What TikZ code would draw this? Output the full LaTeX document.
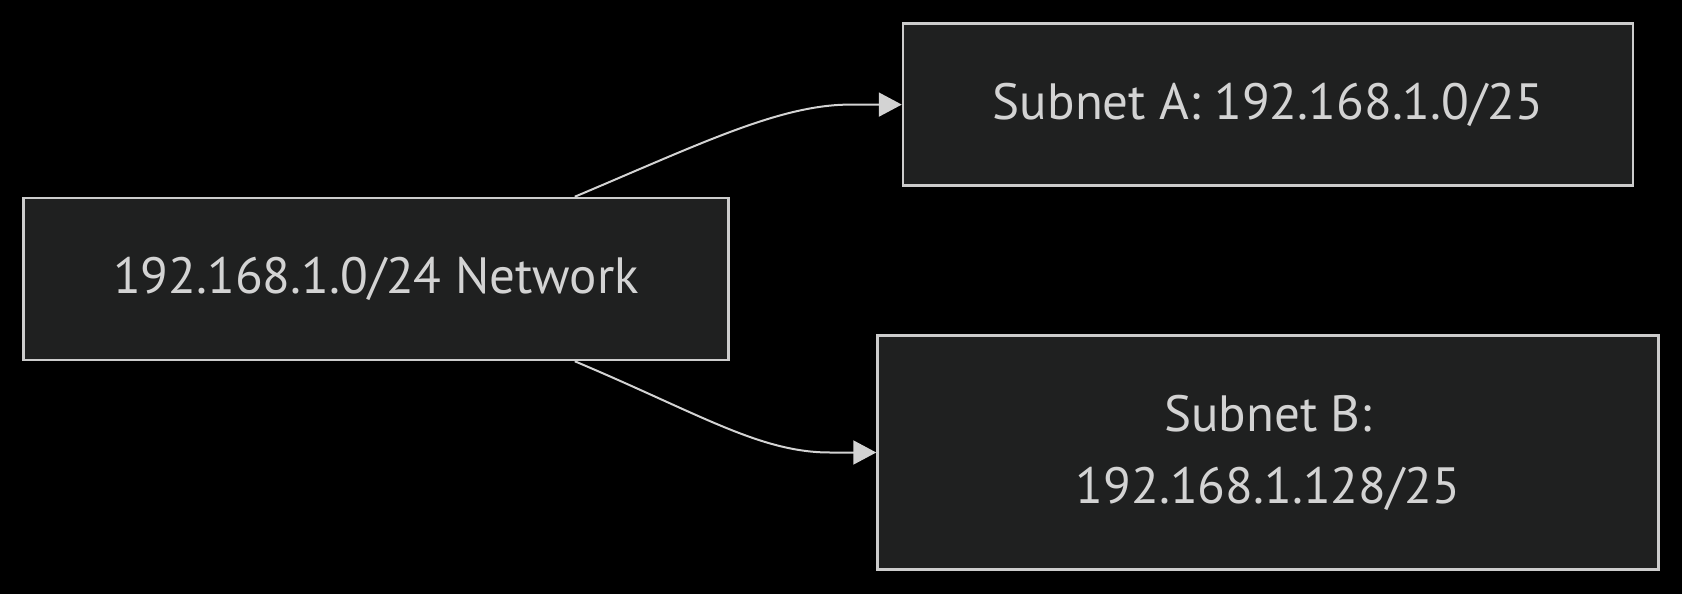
\documentclass[tikz,border=0pt]{standalone}
\usepackage{fontspec}
\setmainfont{PT Sans}
\usetikzlibrary{arrows.meta,calc}
\definecolor{bgc}{HTML}{000000}
\definecolor{boxfill}{HTML}{1F2020}
\definecolor{boxline}{HTML}{CCCCCC}
\definecolor{txt}{HTML}{D3D3D3}
\definecolor{edge}{HTML}{D3D3D3}
\tikzset{
  netbox/.style={draw=boxline, fill=boxfill, line width=2.5pt, inner sep=0pt,
    text=txt, align=center, font=\fontsize{51}{72}\selectfont},
  link/.style={draw=edge, line width=2pt,
    -{Triangle[length=23pt,width=24pt]}},
}
\begin{document}
\begin{tikzpicture}[x=1pt,y=-1pt]
\fill[bgc] (0,0) rectangle (1682,594);
\useasboundingbox (0,0) rectangle (1682,594);
\node[netbox, minimum width=705pt, minimum height=162pt] (net) at (376,279) {192.168.1.0/24 Network};
\node[netbox, minimum width=730pt, minimum height=162pt] (suba) at (1268,104.6) {Subnet A: 192.168.1.0/25};
\node[netbox, minimum width=781pt, minimum height=234pt] (subb) at (1268,452.5) {Subnet B:\\192.168.1.128/25};
\coordinate (s1) at ([xshift=-155pt]net.north east);
\coordinate (s2) at ([xshift=-155pt]net.south east);
\draw[link] (s1) .. controls (700,144) and (780,104.6) .. (850,104.6) -- (suba.west);
\draw[link] (s2) .. controls (700,414) and (760,452.5) .. (830,452.5) -- (subb.west);
\end{tikzpicture}
\end{document}
